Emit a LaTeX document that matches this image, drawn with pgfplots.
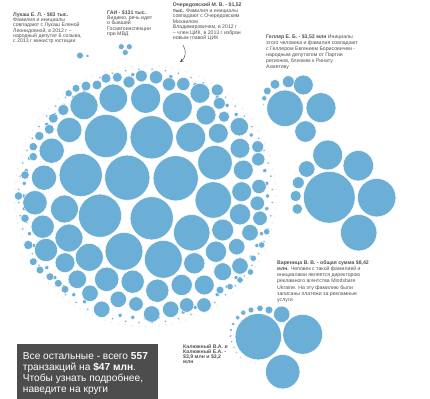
\documentclass[border=0pt]{standalone}
\usepackage{pgfplots}
\pgfplotsset{compat=1.18}
\usepackage{pgfplotstable}
\usepackage{fontspec}
\setmainfont{Liberation Sans}
\definecolor{bub}{RGB}{107,174,214}
\definecolor{txt}{RGB}{80,80,80}
\definecolor{boxc}{RGB}{77,77,77}

% main cluster: x y r (pixels)
\pgfplotstableread{
x y r
106.0 136.0 21.7
151.7 137.3 21.7
80.7 175.0 21.7
127.3 177.7 22.7
175.7 178.3 22.7
100.0 215.7 21.7
151.7 218.3 21.7
124.0 251.3 19.0
163.3 259.3 19.0
191.7 232.7 18.3
213.3 200.0 18.3
215.0 162.7 17.3
190.7 137.3 15.0
177.3 107.3 15.0
145.7 98.3 15.0
113.3 98.3 14.3
84.0 105.7 14.0
69.3 130.0 12.7
51.7 150.7 12.7
44.0 177.7 12.7
35.0 202.7 12.3
64.5 209.0 14.0
42.7 226.7 11.7
69.0 238.0 14.0
46.0 250.0 11.7
89.3 257.3 14.0
65.0 262.7 10.0
77.3 279.3 9.3
106.7 279.3 12.3
132.7 281.7 11.7
157.3 290.7 11.7
181.7 285.0 10.7
194.3 263.3 10.7
204.3 285.0 10.0
222.7 271.7 9.0
240.0 266.0 8.3
216.0 251.7 10.7
222.7 230.0 11.0
236.7 246.7 8.3
250.0 232.7 8.3
240.0 214.3 10.7
260.0 218.3 7.3
241.7 191.7 10.0
257.3 203.3 7.3
243.3 170.0 10.0
259.0 186.5 7.3
240.0 148.3 10.0
258.3 159.3 6.7
257.7 146.7 6.0
239.3 126.7 9.3
218.3 133.3 10.0
206.0 115.0 10.0
224.0 116.7 5.7
200.0 93.3 10.0
219.3 103.3 6.0
217.3 90.0 6.0
183.3 84.0 6.7
169.0 84.3 6.7
156.0 77.3 6.7
141.3 76.0 6.0
129.0 82.0 6.0
117.3 77.3 5.0
106.0 78.3 5.0
97.0 85.0 5.0
86.0 86.0 5.0
76.0 88.3 4.0
68.7 93.3 3.7
63.3 110.0 5.7
53.3 118.3 5.0
49.3 129.3 5.0
39.3 136.0 4.7
33.3 146.7 4.3
33.3 156.7 4.3
25.0 175.0 4.3
18.5 196.0 4.3
25.0 218.3 4.3
28.3 245.0 4.7
33.3 261.7 4.0
40.0 270.0 4.0
50.0 276.7 4.0
58.3 283.3 4.0
65.0 289.3 4.0
90.0 293.3 8.3
101.7 309.3 8.3
118.3 299.3 8.3
136.0 304.0 7.3
151.7 314.0 8.3
170.7 309.3 8.3
186.7 305.0 7.3
204.0 305.0 7.3
220.0 290.0 4.0
230.0 286.7 3.3
240.0 280.0 3.3
250.5 272.0 3.3
253.3 258.3 3.3
261.7 245.0 3.3
266.7 231.7 3.3
}\maincluster

% rim of small dots of the main cluster
\pgfplotstableread{
x y r
267.5 196 2.2
23.5 196 2.2
145.5 74 2.2
145.5 318 2.2
266.8 183.3 2.2
24.2 183.3 2.2
24.2 208.7 2.2
266.8 208.7 2.2
264.8 170.6 2.2
26.2 170.6 2.2
26.2 221.4 2.2
264.8 221.4 2.2
261.5 158.3 2.2
29.5 158.3 2.2
29.5 233.7 2.2
261.5 233.7 2.2
256.9 146.4 2.2
34.1 146.4 2.2
34.1 245.6 2.2
256.9 245.6 2.2
251.2 135 2.2
39.8 135 2.2
39.8 257 2.2
251.2 257 2.2
244.2 124.3 2.2
46.8 124.3 2.2
46.8 267.7 2.2
244.2 267.7 2.2
236.2 114.4 2.2
54.8 114.4 2.2
54.8 277.6 2.2
236.2 277.6 2.2
227.1 105.3 2.2
63.9 105.3 2.2
63.9 286.7 2.2
227.1 286.7 2.2
217.2 97.3 2.2
73.8 97.3 2.2
73.8 294.7 2.2
217.2 294.7 2.2
206.5 90.3 2.2
84.5 90.3 2.2
84.5 301.7 2.2
206.5 301.7 2.2
195.1 84.6 2.2
95.9 84.6 2.2
95.9 307.4 2.2
195.1 307.4 2.2
183.2 80 2.2
107.8 80 2.2
107.8 312 2.2
183.2 312 2.2
170.9 76.7 2.2
120.1 76.7 2.2
120.1 315.3 2.2
170.9 315.3 2.2
158.2 74.7 2.2
132.8 74.7 2.2
132.8 317.3 2.2
158.2 317.3 2.2
272.3 189.4 1.5
18.7 189.4 1.5
18.7 202.6 1.5
272.3 202.6 1.5
270.9 176.1 1.5
20.1 176.1 1.5
20.1 215.9 1.5
270.9 215.9 1.5
268.2 163.1 1.5
22.8 163.1 1.5
22.8 228.9 1.5
268.2 228.9 1.5
264.1 150.5 1.5
26.9 150.5 1.5
26.9 241.5 1.5
264.1 241.5 1.5
258.7 138.3 1.5
32.3 138.3 1.5
32.3 253.7 1.5
258.7 253.7 1.5
252 126.8 1.5
39 126.8 1.5
39 265.2 1.5
252 265.2 1.5
244.2 116.1 1.5
46.8 116.1 1.5
46.8 275.9 1.5
244.2 275.9 1.5
235.3 106.2 1.5
55.7 106.2 1.5
55.7 285.8 1.5
235.3 285.8 1.5
225.4 97.3 1.5
65.6 97.3 1.5
65.6 294.7 1.5
225.4 294.7 1.5
214.7 89.5 1.5
76.3 89.5 1.5
76.3 302.5 1.5
214.7 302.5 1.5
203.2 82.8 1.5
87.8 82.8 1.5
87.8 309.2 1.5
203.2 309.2 1.5
191 77.4 1.5
100 77.4 1.5
100 314.6 1.5
191 314.6 1.5
178.4 73.3 1.5
112.6 73.3 1.5
112.6 318.7 1.5
178.4 318.7 1.5
165.4 70.6 1.5
125.6 70.6 1.5
125.6 321.4 1.5
165.4 321.4 1.5
152.1 69.2 1.5
138.9 69.2 1.5
138.9 322.8 1.5
152.1 322.8 1.5
276 196 0.9
15 196 0.9
145.5 65.5 0.9
145.5 326.5 0.9
275.3 182.4 0.9
15.7 182.4 0.9
15.7 209.6 0.9
275.3 209.6 0.9
273.1 168.9 0.9
17.9 168.9 0.9
17.9 223.1 0.9
273.1 223.1 0.9
269.6 155.7 0.9
21.4 155.7 0.9
21.4 236.3 0.9
269.6 236.3 0.9
264.7 142.9 0.9
26.3 142.9 0.9
26.3 249.1 0.9
264.7 249.1 0.9
258.5 130.7 0.9
32.5 130.7 0.9
32.5 261.3 0.9
258.5 261.3 0.9
251.1 119.3 0.9
39.9 119.3 0.9
39.9 272.7 0.9
251.1 272.7 0.9
242.5 108.7 0.9
48.5 108.7 0.9
48.5 283.3 0.9
242.5 283.3 0.9
232.8 99 0.9
58.2 99 0.9
58.2 293 0.9
232.8 293 0.9
222.2 90.4 0.9
68.8 90.4 0.9
68.8 301.6 0.9
222.2 301.6 0.9
210.8 83 0.9
80.2 83 0.9
80.2 309 0.9
210.8 309 0.9
198.6 76.8 0.9
92.4 76.8 0.9
92.4 315.2 0.9
198.6 315.2 0.9
185.8 71.9 0.9
105.2 71.9 0.9
105.2 320.1 0.9
185.8 320.1 0.9
172.6 68.4 0.9
118.4 68.4 0.9
118.4 323.6 0.9
172.6 323.6 0.9
159.1 66.2 0.9
131.9 66.2 0.9
131.9 325.8 0.9
159.1 325.8 0.9
275.8 189.2 0.9
15.2 189.2 0.9
15.2 202.8 0.9
275.8 202.8 0.9
274.4 175.6 0.9
16.6 175.6 0.9
16.6 216.4 0.9
274.4 216.4 0.9
271.6 162.2 0.9
19.4 162.2 0.9
19.4 229.8 0.9
271.6 229.8 0.9
267.3 149.2 0.9
23.7 149.2 0.9
23.7 242.8 0.9
267.3 242.8 0.9
261.8 136.8 0.9
29.2 136.8 0.9
29.2 255.2 0.9
261.8 255.2 0.9
254.9 124.9 0.9
36.1 124.9 0.9
36.1 267.1 0.9
254.9 267.1 0.9
246.9 113.9 0.9
44.1 113.9 0.9
44.1 278.1 0.9
246.9 278.1 0.9
237.8 103.7 0.9
53.2 103.7 0.9
53.2 288.3 0.9
237.8 288.3 0.9
227.6 94.6 0.9
63.4 94.6 0.9
63.4 297.4 0.9
227.6 297.4 0.9
216.6 86.6 0.9
74.4 86.6 0.9
74.4 305.4 0.9
216.6 305.4 0.9
204.7 79.7 0.9
86.3 79.7 0.9
86.3 312.3 0.9
204.7 312.3 0.9
192.3 74.2 0.9
98.7 74.2 0.9
98.7 317.8 0.9
192.3 317.8 0.9
179.3 69.9 0.9
111.7 69.9 0.9
111.7 322.1 0.9
179.3 322.1 0.9
165.9 67.1 0.9
125.1 67.1 0.9
125.1 324.9 0.9
165.9 324.9 0.9
152.3 65.7 0.9
138.7 65.7 0.9
138.7 326.3 0.9
152.3 326.3 0.9
}\rimdots

% smaller named clusters
\pgfplotstableread{
x y r
80.0 55.5 3.5
87.5 56.0 2.0
121.3 46.7 3.1
129.3 46.7 3.1
125.3 52.5 3.1
285.0 108.3 18.3
321.0 107.7 15.0
303.3 85.0 10.0
288.3 81.7 6.0
275.0 84.3 5.0
267.3 91.0 4.0
264.3 98.3 2.7
263.3 104.3 1.3
305.5 131.5 10.8
329.3 197.3 26.0
327.7 155.0 15.0
358.3 165.7 15.3
376.7 197.7 19.3
358.7 232.7 18.3
306.7 169.0 8.3
298.3 182.7 6.0
295.7 196.0 5.7
297.3 209.0 5.3
258.3 336.7 23.3
302.7 334.3 20.0
282.7 371.7 17.3
281.7 314.3 8.3
269.0 310.0 4.0
260.0 308.3 3.3
251.0 310.0 3.0
243.3 312.7 2.7
237.7 317.7 2.3
233.3 324.0 2.0
231.0 330.0 1.8
230.7 336.0 1.6
231.7 341.7 1.5
234.0 347.3 1.3
236.7 352.7 1.2
240.7 357.3 1.1
245.0 360.0 1.0
250.0 361.7 1.0
255.0 362.7 0.9
}\others

\pgfplotsset{bubble/.style={scatter, only marks, mark=*,
  point meta=\thisrow{r},
  scatter/use mapped color={draw=white, fill=bub},
  mark options={line width=0.5pt},
  visualization depends on={\thisrow{r}-0.05 \as \rr},
  scatter/@pre marker code/.append style={/tikz/mark size=\rr}}}

\begin{document}
\begin{tikzpicture}
\begin{axis}[
  width=430bp, height=399bp, scale only axis,
  xmin=0, xmax=430, ymin=0, ymax=399, y dir=reverse,
  hide axis, clip=false,
]
\path (rel axis cs:0,0) rectangle (rel axis cs:1,1);
\addplot[bubble] table[x=x,y=y] {\rimdots};
\addplot[bubble] table[x=x,y=y] {\maincluster};
\addplot[bubble] table[x=x,y=y] {\others};

\node[anchor=north west, align=left, inner sep=0pt, text=txt,
  font=\fontsize{5.2}{5.3}\selectfont] at (axis cs:13,12.2)
  {\textbf{Лукаш Е. Л. - \$83 тыс.}\\Фамилия и инициалы\\совпадают с Лукаш Еленой\\Леонидовной, в 2012 г –\\народный депутат 6 созыва,\\с 2013 г министр юстиции};
\node[anchor=north west, align=left, inner sep=0pt, text=txt,
  font=\fontsize{5.2}{5.3}\selectfont] at (axis cs:107,10.2)
  {\textbf{ГАИ - \$131 тыс.}\\Видимо, речь идет\\о бывшей\\Госавтоинспекции\\при МВД};
\node[anchor=north west, align=left, inner sep=0pt, text=txt,
  font=\fontsize{5.2}{5.6}\selectfont] at (axis cs:172.7,2.4)
  {\textbf{Очередовский М. В. - \$1,52}\\\textbf{тыс.} Фамилия и инициалы\\совпадают с Очередовским\\Михаилом\\Владимировичем, в 2012 г\\– член ЦИК, в 2013 г избран\\новым главой ЦИК};
\node[anchor=north west, align=left, inner sep=0pt, text=txt,
  font=\fontsize{5.2}{6.2}\selectfont] at (axis cs:266,34)
  {\textbf{Геллер Е. Б. - \$3,53 млн} Инициалы\\этого человека и фамилия совпадают\\с Геллером Евгением Борисовичем -\\народным депутатом от Партии\\регионов, близким к Ринату\\Ахметову};
\node[anchor=north west, align=left, inner sep=0pt, text=txt,
  font=\fontsize{5.2}{6.2}\selectfont] at (axis cs:277,260.3)
  {\textbf{Вареница В. В. - общая сумма \$8,42}\\\textbf{млн.} Человек с такой фамилией и\\инициалами является директором\\рекламного агентства Mindshare\\Ukraine. На эту фамилию были\\записаны платежи за рекламные\\услуги};
\node[anchor=north west, align=left, inner sep=0pt, text=txt,
  font=\fontsize{5.2}{5.3}\selectfont] at (axis cs:183,344)
  {\textbf{Калюжный В.А. и}\\\textbf{Калюжный Е.А. -}\\\textbf{\$3,9 млн и \$3,2}\\\textbf{млн}};
\draw[->, >=stealth, line width=0.5pt, black!70] (axis cs:183,45) to[bend left=45] (axis cs:180,62);

\fill[boxc] (axis cs:17,344) rectangle (axis cs:158,399);
\node[anchor=north west, align=left, inner sep=0pt, text=white,
  font=\fontsize{10.2}{11}\selectfont] at (axis cs:22.7,352)
  {Все остальные - всего \textbf{557}\\транзакций на \textbf{\$47 млн}.\\Чтобы узнать подробнее,\\наведите на круги};
\end{axis}
\end{tikzpicture}
\end{document}
